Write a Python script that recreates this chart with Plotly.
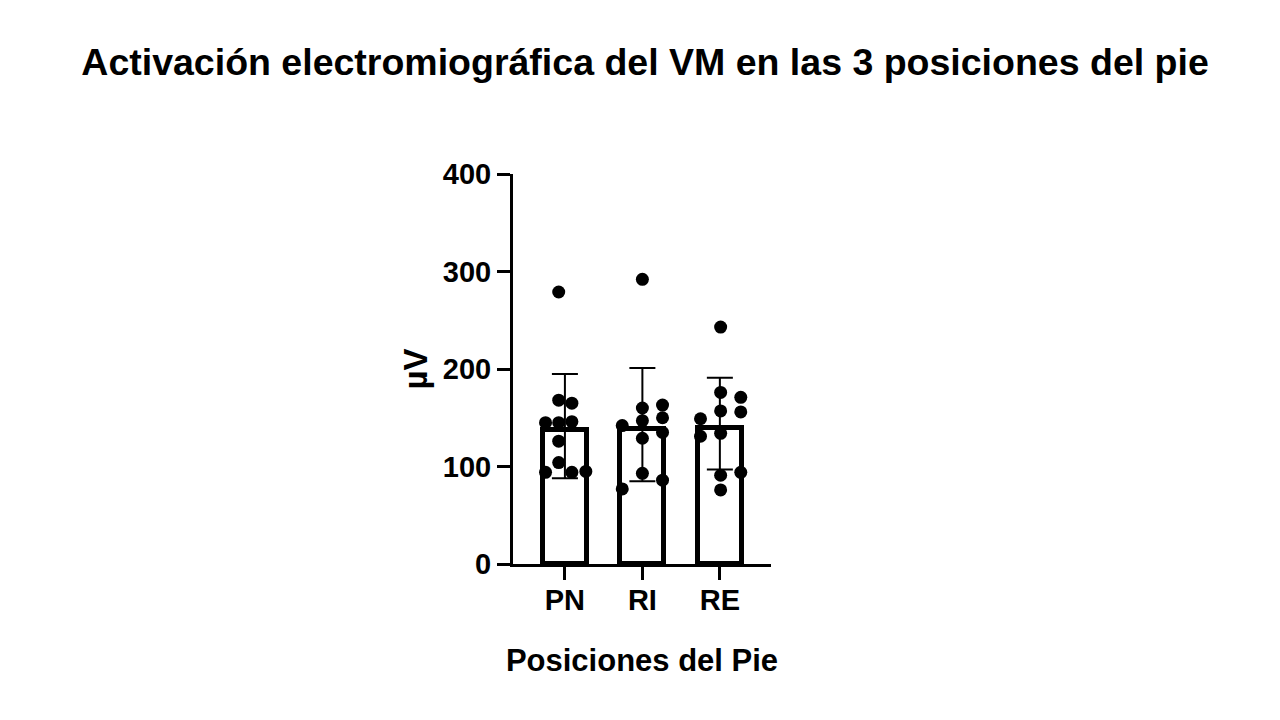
import plotly.graph_objects as go

# -------------------------------------------------------------
# Datos (µV)
# -------------------------------------------------------------
posiciones = ["PN", "RI", "RE"]
medias = [137, 138, 139]
error_sup = [195, 201, 191]   # extremo superior de la barra de error
error_inf = [88, 85, 97]      # extremo inferior de la barra de error

puntos_PN = [279, 168, 165, 145, 145, 146, 126, 104, 94, 94, 95]
puntos_RI = [292, 160, 163, 150, 142, 147, 135, 129, 93, 86, 77]
puntos_RE = [243, 176, 171, 157, 156, 149, 131, 134, 91, 94, 76]

# desplazamiento horizontal de cada punto (dispersion tipo GraphPad)
jitter_PN = [-0.08, -0.08, 0.09, -0.25, -0.08, 0.09, -0.08, -0.08, -0.25, 0.09, 0.27]
jitter_RI = [0.0, 0.0, 0.26, 0.26, -0.26, 0.0, 0.26, 0.0, 0.0, 0.26, -0.26]
jitter_RE = [0.01, 0.01, 0.27, 0.01, 0.27, -0.25, -0.25, 0.01, 0.01, 0.27, 0.01]

fuente = "Liberation Sans, Arial, sans-serif"
negro = "#000000"

xs = list(range(len(posiciones)))
arr_plus = [s - m for s, m in zip(error_sup, medias)]
arr_minus = [m - i for m, i in zip(medias, error_inf)]

fig = go.Figure()

fig.add_trace(go.Bar(
    x=xs, y=medias, width=0.57,
    marker=dict(color="white", line=dict(color=negro, width=5)),
    showlegend=False, hoverinfo="y",
))

puntos = [puntos_PN, puntos_RI, puntos_RE]
jitters = [jitter_PN, jitter_RI, jitter_RE]
for i, (vals, jit) in enumerate(zip(puntos, jitters)):
    fig.add_trace(go.Scatter(
        x=[i + j for j in jit], y=vals, mode="markers",
        marker=dict(color=negro, size=13),
        showlegend=False, hoverinfo="y",
    ))

# barras de error (encima de los puntos)
fig.add_trace(go.Scatter(
    x=xs, y=medias, mode="markers",
    marker=dict(color="rgba(0,0,0,0)", size=1),
    error_y=dict(type="data", symmetric=False, array=arr_plus, arrayminus=arr_minus,
                 color=negro, thickness=2, width=13),
    showlegend=False, hoverinfo="skip",
))

fig.update_layout(
    width=1280, height=720,
    paper_bgcolor="white", plot_bgcolor="white",
    margin=dict(l=505, r=517, t=166, b=164),
    bargap=0,
    title=dict(text="<b>Activación electromiográfica del VM en las 3 posiciones del pie</b>",
               x=0.4977, xanchor="center", y=0.925, yanchor="middle",
               font=dict(family=fuente, size=37.5, color=negro)),
    font=dict(family=fuente, color=negro),
)

fig.update_xaxes(
    range=[-0.67, 2.66], tickvals=xs,
    ticktext=["<b>%s</b>" % p for p in posiciones],
    showline=True, linecolor=negro, linewidth=3,
    ticks="outside", ticklen=13, tickwidth=3, tickcolor=negro,
    ticklabelstandoff=-5,
    tickfont=dict(family=fuente, size=29, color=negro),
    showgrid=False, zeroline=False,
    title=dict(text="<b>Posiciones del Pie</b>", standoff=35,
               font=dict(family=fuente, size=31, color=negro)),
)

fig.update_yaxes(
    range=[0, 400], tickvals=[0, 100, 200, 300, 400],
    ticktext=["<b>%d</b>" % v for v in [0, 100, 200, 300, 400]],
    showline=True, linecolor=negro, linewidth=3,
    ticks="outside", ticklen=13, tickwidth=3, tickcolor=negro,
    tickfont=dict(family=fuente, size=29, color=negro),
    showgrid=False, zeroline=False,
    title=dict(text="<b>µV</b>", standoff=6,
               font=dict(family=fuente, size=33, color=negro)),
)

fig.write_html("out.html")
